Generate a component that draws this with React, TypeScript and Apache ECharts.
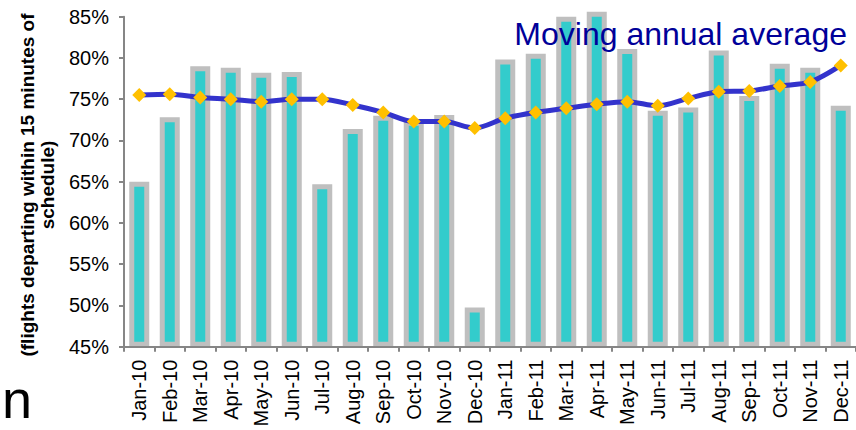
import React, { useEffect, useRef } from "react";
import * as echarts from "echarts";

const categories = [
  "Jan-10", "Feb-10", "Mar-10", "Apr-10", "May-10", "Jun-10", "Jul-10", "Aug-10", "Sep-10", "Oct-10", "Nov-10", "Dec-10",
  "Jan-11", "Feb-11", "Mar-11", "Apr-11", "May-11", "Jun-11", "Jul-11", "Aug-11", "Sep-11", "Oct-11", "Nov-11", "Dec-11",
];

const monthlyValues = [
  65.0, 72.8, 79.0, 78.8, 78.2, 78.3, 64.7, 71.4, 73.0, 72.4, 73.1, 49.75,
  79.8, 80.5, 85.0, 85.6, 81.1, 73.6, 74.0, 80.9, 75.4, 79.3, 78.8, 74.2,
];

const movingAverage = [
  75.5, 75.6, 75.2, 75.0, 74.7, 75.0, 75.0, 74.3, 73.4, 72.3, 72.3, 71.5,
  72.7, 73.4, 73.9, 74.4, 74.7, 74.2, 75.1, 75.9, 76.0, 76.6, 77.1, 79.1,
];

const yMin = 45;
const yMax = 85;
const yStep = 5;

const yTitle = "(flights departing within 15 minutes of\nschedule)";
const legendText = "Moving annual average";
const cornerText = "n";

const FONT = "'Liberation Sans', Arial, Helvetica, sans-serif";

export default function App() {
  const ref = useRef<HTMLDivElement>(null);

  useEffect(() => {
    if (!ref.current) return;
    const chart = echarts.init(ref.current, null, { renderer: "svg" });
    chart.setOption({
      animation: false,
      textStyle: { fontFamily: FONT },
      grid: { left: 124, right: -2, top: 16.7, bottom: 83.3, containLabel: false },
      xAxis: {
        type: "category",
        data: categories,
        boundaryGap: true,
        axisLine: { lineStyle: { color: "#868686", width: 2 } },
        axisTick: { show: true, length: 5, lineStyle: { color: "#868686", width: 2 } },
        axisLabel: {
          rotate: 90,
          interval: 0,
          margin: 13,
          color: "#000",
          fontSize: 20,
          fontFamily: FONT,
        },
        z: 5,
      },
      yAxis: {
        type: "value",
        min: yMin,
        max: yMax,
        startValue: yMin,
        interval: yStep,
        splitLine: { show: false },
        axisLine: { show: true, lineStyle: { color: "#868686", width: 2 } },
        axisTick: { show: true, length: 5, lineStyle: { color: "#868686", width: 2 } },
        axisLabel: {
          formatter: "{value}%",
          margin: 15,
          color: "#000",
          fontSize: 20,
          fontFamily: FONT,
        },
      },
      series: [
        {
          type: "bar",
          data: monthlyValues,
          barWidth: 20,
          clip: false,
          itemStyle: { color: "#33CCCC", borderColor: "#BFBFBF", borderWidth: 5 },
          z: 2,
        },
        {
          type: "line",
          data: movingAverage,
          smooth: 0.3,
          symbol: "diamond",
          symbolSize: 14,
          lineStyle: { color: "#3333CC", width: 5 },
          itemStyle: { color: "#FFC000", borderWidth: 0 },
          z: 3,
        },
      ],
      graphic: [
        {
          type: "text",
          x: 37,
          y: 185,
          rotation: Math.PI / 2,
          style: {
            text: yTitle,
            fontFamily: FONT,
            fontWeight: "bold",
            fontSize: 19,
            lineHeight: 20,
            fill: "#000",
            textAlign: "center",
            textVerticalAlign: "middle",
          },
        },
        {
          type: "text",
          x: 847,
          y: 34,
          style: {
            text: legendText,
            fontFamily: FONT,
            fontSize: 32,
            fill: "#000099",
            textAlign: "right",
            textVerticalAlign: "middle",
          },
          z: 10,
        },
        {
          type: "text",
          x: 2,
          y: 399,
          style: {
            text: cornerText,
            fontFamily: FONT,
            fontSize: 54,
            fill: "#000",
            textAlign: "left",
            textVerticalAlign: "middle",
          },
        },
      ],
    });
    return () => chart.dispose();
  }, []);

  return (
    <div
      ref={ref}
      style={{ position: "fixed", left: 0, top: 0, width: 856, height: 430, background: "#fff" }}
    />
  );
}
